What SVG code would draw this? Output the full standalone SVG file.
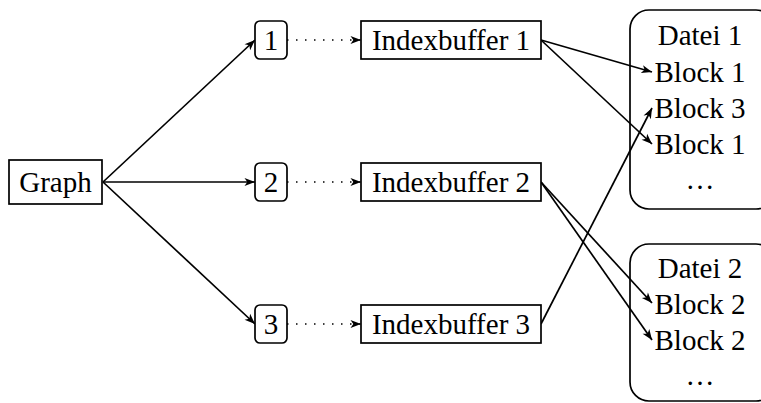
<svg xmlns="http://www.w3.org/2000/svg" width="761" height="403" viewBox="0 0 761 403">
<style>
  .box { fill: #fff; stroke: #000; stroke-width: 1.7; }
  .t { font-family: "Liberation Serif", "Times New Roman", serif; font-size: 29px; fill: #000; text-anchor: middle; }
  .c { fill: none; stroke: #000; stroke-width: 1.7; marker-end: url(#arr); }
  .d { fill: none; stroke: #000; stroke-width: 1.7; stroke-dasharray: 1.5 7.5; marker-end: url(#arr); }
</style>
<defs>
  <marker id="arr" markerUnits="userSpaceOnUse" markerWidth="13" markerHeight="11" refX="11" refY="5.5" orient="auto" overflow="visible">
    <path d="M11,5.5 L0.5,1.4 L3.3,5.5 L0.5,9.6 Z" fill="#000"/>
  </marker>
</defs>
<rect width="761" height="403" fill="#fff"/>
<g id="connectors">
  <line class="c" x1="103" y1="182" x2="255" y2="40"/>
  <line class="c" x1="103" y1="182" x2="255" y2="182"/>
  <line class="c" x1="103" y1="182" x2="255" y2="324"/>
  <line class="d" x1="287" y1="40" x2="361" y2="40"/>
  <line class="d" x1="287" y1="182" x2="361" y2="182"/>
  <line class="d" x1="287" y1="324" x2="361" y2="324"/>
  <line class="c" x1="541" y1="40" x2="652" y2="72"/>
  <line class="c" x1="541" y1="40" x2="652" y2="144"/>
  <line class="c" x1="541" y1="324" x2="652" y2="108"/>
  <line class="c" x1="541" y1="182" x2="652" y2="303"/>
  <line class="c" x1="541" y1="182" x2="652" y2="340"/>
</g>
<g id="graph">
  <rect class="box" x="9" y="160" width="93" height="44"/>
  <text class="t" x="55.5" y="192">Graph</text>
</g>
<g id="n1">
  <rect class="box" x="255" y="21" width="32" height="38" rx="5"/>
  <text class="t" x="271" y="50">1</text>
</g>
<g id="n2">
  <rect class="box" x="255" y="163" width="32" height="38" rx="5"/>
  <text class="t" x="271" y="192">2</text>
</g>
<g id="n3">
  <rect class="box" x="255" y="305" width="32" height="38" rx="5"/>
  <text class="t" x="271" y="334">3</text>
</g>
<g id="ib1">
  <rect class="box" x="361" y="21" width="180" height="38"/>
  <text class="t" x="451" y="50">Indexbuffer 1</text>
</g>
<g id="ib2">
  <rect class="box" x="361" y="163" width="180" height="38"/>
  <text class="t" x="451" y="192">Indexbuffer 2</text>
</g>
<g id="ib3">
  <rect class="box" x="361" y="305" width="180" height="38"/>
  <text class="t" x="451" y="334">Indexbuffer 3</text>
</g>
<g id="datei1">
  <rect class="box" x="630" y="10" width="145" height="199" rx="19" style="fill:none"/>
  <text class="t" x="700" y="45">Datei 1</text>
  <text class="t" x="700" y="82">Block 1</text>
  <text class="t" x="700" y="118">Block 3</text>
  <text class="t" x="700" y="154">Block 1</text>
  <text class="t" x="700" y="189">…</text>
</g>
<g id="datei2">
  <rect class="box" x="630" y="244" width="145" height="157" rx="19" style="fill:none"/>
  <text class="t" x="700" y="278">Datei 2</text>
  <text class="t" x="700" y="314">Block 2</text>
  <text class="t" x="700" y="350">Block 2</text>
  <text class="t" x="700" y="385">…</text>
</g>
</svg>
